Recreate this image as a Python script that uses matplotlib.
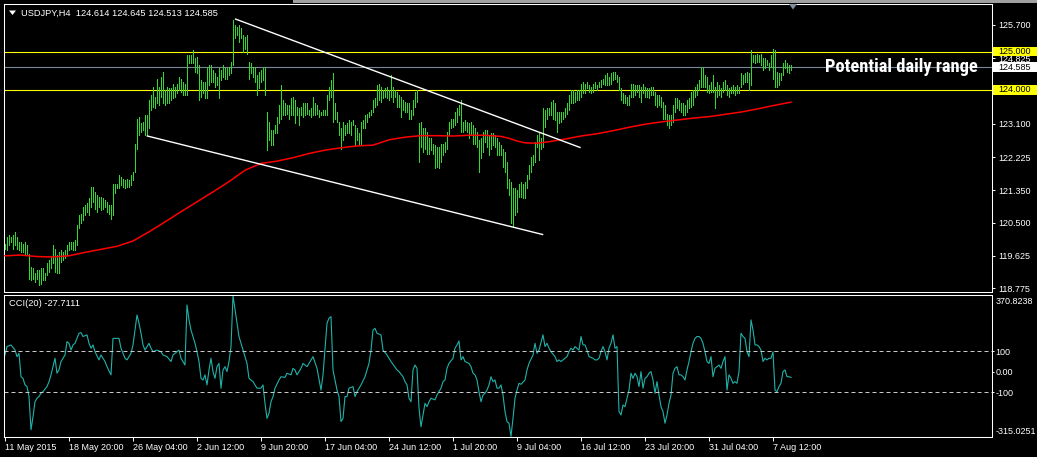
import numpy as np
import matplotlib
matplotlib.use('Agg')
from matplotlib import pyplot as plt
from matplotlib import font_manager
from matplotlib.transforms import blended_transform_factory
from matplotlib.patches import Rectangle, Polygon

# USDJPY H4 bars (high / low), one value per bar
bar_high = [
    119.95, 120.13, 120.17, 120.13, 120.17, 120.26, 120.13, 120.00, 120.00, 119.95,
    120.00, 119.91, 119.69, 119.34, 119.30, 119.17, 119.25, 119.25, 119.30, 119.30,
    119.17, 119.43, 119.52, 119.60, 119.91, 119.82, 119.65, 119.74, 119.78, 119.74,
    119.78, 119.91, 120.00, 120.00, 120.00, 120.04, 120.44, 120.70, 120.74, 120.92,
    120.96, 121.01, 121.14, 121.45, 121.45, 121.31, 121.23, 121.18, 121.18, 121.14,
    121.09, 121.05, 120.96, 120.96, 121.53, 121.53, 121.53, 121.75, 121.71, 121.66,
    121.62, 121.66, 121.62, 121.75, 121.84, 122.58, 123.24, 123.29, 123.11, 123.15,
    123.33, 123.33, 123.72, 123.86, 124.08, 123.81, 124.29, 124.08, 124.34, 124.47,
    123.99, 124.08, 124.03, 124.03, 124.16, 124.08, 124.16, 124.34, 124.29, 124.21,
    124.16, 124.91, 124.91, 124.91, 125.04, 124.82, 124.86, 124.65, 124.25, 124.21,
    124.21, 124.56, 124.65, 124.65, 124.51, 124.43, 124.34, 124.56, 124.51, 124.65,
    124.56, 124.56, 124.60, 124.73, 125.83, 125.70, 125.65, 125.70, 125.61, 125.43,
    125.39, 125.43, 124.73, 124.69, 124.60, 124.60, 124.38, 124.47, 124.51, 124.56,
    124.60, 123.42, 123.15, 122.94, 122.94, 123.07, 123.29, 123.59, 124.12, 123.72,
    123.64, 123.59, 123.59, 123.77, 123.81, 123.72, 123.55, 123.51, 123.55, 123.64,
    123.64, 123.64, 123.46, 123.51, 123.81, 123.64, 123.59, 123.46, 123.42, 123.46,
    123.46, 123.86, 124.08, 124.25, 124.43, 123.64, 123.42, 123.15, 122.98, 123.15,
    123.07, 123.11, 123.20, 123.15, 123.20, 123.07, 122.98, 122.85, 123.15, 123.20,
    123.33, 123.37, 123.42, 123.46, 123.72, 123.77, 124.12, 124.16, 124.08, 123.99,
    124.03, 124.08, 123.99, 124.38, 124.08, 123.99, 123.94, 123.86, 123.81, 123.72,
    123.68, 123.64, 123.64, 123.46, 123.72, 123.94, 123.99, 123.11, 123.15, 122.98,
    122.98, 122.89, 122.72, 122.72, 122.58, 122.54, 122.50, 122.50, 122.58, 122.58,
    122.63, 122.89, 123.15, 123.24, 123.24, 123.42, 123.51, 123.59, 123.72, 123.15,
    123.20, 123.15, 123.11, 123.15, 123.07, 122.98, 122.89, 122.67, 122.72, 122.89,
    122.94, 122.94, 122.80, 122.85, 122.85, 122.80, 122.72, 122.63, 122.54, 122.45,
    122.37, 122.10, 121.66, 121.58, 121.40, 121.40, 121.36, 121.53, 121.58, 121.53,
    121.58, 121.75, 122.01, 122.23, 122.28, 122.63, 122.80, 122.85, 122.72, 123.51,
    123.46, 123.51, 123.51, 123.68, 123.72, 123.64, 123.42, 123.42, 123.42, 123.42,
    123.51, 123.64, 123.86, 123.99, 123.99, 123.94, 123.99, 123.99, 124.16, 124.21,
    124.16, 124.21, 124.12, 124.08, 124.16, 124.21, 124.12, 124.21, 124.25, 124.29,
    124.38, 124.43, 124.34, 124.43, 124.47, 124.47, 124.38, 124.34, 124.03, 123.90,
    123.86, 123.81, 123.86, 124.16, 124.16, 124.12, 124.12, 124.12, 124.08, 124.16,
    124.08, 124.03, 124.03, 124.08, 124.08, 123.94, 123.86, 123.86, 123.81, 123.68,
    123.59, 123.37, 123.33, 123.33, 123.59, 123.77, 123.77, 123.72, 123.64, 123.64,
    123.59, 123.72, 123.77, 123.94, 123.99, 124.08, 124.16, 124.25, 124.56, 124.60,
    124.38, 124.34, 124.12, 124.21, 124.38, 124.08, 124.21, 124.12, 124.03, 124.21,
    124.25, 124.12, 124.03, 124.08, 124.12, 124.08, 124.12, 124.08, 124.43, 124.38,
    124.43, 124.47, 124.43, 125.04, 124.91, 124.91, 124.95, 124.91, 124.95, 124.82,
    124.82, 124.78, 124.69, 124.91, 125.08, 125.04, 124.47, 124.43, 124.43, 124.69,
    124.78, 124.69, 124.65, 124.645,
]

bar_low = [
    119.82, 119.78, 119.91, 120.00, 119.82, 119.91, 119.82, 119.78, 119.74, 119.74,
    119.65, 119.65, 119.03, 118.99, 119.03, 118.95, 119.03, 118.86, 118.90, 118.99,
    118.99, 119.12, 119.21, 119.30, 119.43, 119.21, 119.17, 119.17, 119.47, 119.52,
    119.56, 119.65, 119.78, 119.82, 119.78, 119.78, 119.91, 120.35, 120.48, 120.57,
    120.70, 120.79, 120.70, 120.92, 121.05, 120.87, 120.79, 120.92, 120.83, 120.87,
    120.92, 120.79, 120.74, 120.61, 120.70, 121.27, 121.40, 121.40, 121.49, 121.45,
    121.40, 121.45, 121.45, 121.49, 121.62, 121.84, 122.45, 122.80, 122.89, 122.94,
    122.80, 122.80, 122.98, 123.46, 123.55, 123.51, 123.64, 123.59, 123.81, 123.64,
    123.59, 123.64, 123.64, 123.72, 123.77, 123.81, 123.90, 123.99, 123.94, 123.86,
    123.86, 123.86, 124.69, 124.69, 124.69, 124.47, 124.43, 123.72, 123.81, 123.90,
    123.77, 123.77, 124.12, 124.21, 124.21, 124.08, 124.12, 123.77, 124.25, 124.34,
    124.29, 124.29, 124.38, 124.43, 124.65, 125.35, 125.43, 125.26, 125.35, 125.00,
    125.08, 124.95, 124.29, 124.43, 124.34, 124.21, 123.86, 124.03, 124.21, 124.25,
    123.86, 122.41, 122.67, 122.54, 122.54, 122.85, 122.85, 123.11, 123.24, 123.33,
    123.33, 123.37, 123.24, 123.33, 123.33, 123.11, 123.33, 123.07, 123.33, 123.29,
    123.33, 123.37, 123.33, 123.29, 123.33, 123.33, 123.37, 123.29, 123.33, 123.33,
    123.33, 123.33, 123.72, 123.81, 123.15, 123.24, 123.15, 122.80, 122.45, 122.67,
    122.80, 122.85, 122.85, 122.80, 123.07, 122.54, 122.67, 122.54, 122.58, 122.98,
    122.98, 123.15, 123.29, 123.33, 123.42, 123.55, 123.59, 123.72, 123.68, 123.77,
    123.81, 123.77, 123.72, 123.81, 123.68, 123.81, 123.55, 123.55, 123.29, 123.46,
    123.42, 123.42, 123.24, 123.24, 123.33, 123.55, 123.68, 122.10, 122.50, 122.37,
    122.45, 122.32, 122.32, 122.41, 122.32, 121.93, 121.97, 121.93, 122.10, 122.28,
    122.37, 122.45, 122.80, 122.98, 123.02, 123.07, 123.15, 123.33, 122.89, 122.89,
    122.94, 122.89, 122.72, 122.80, 122.58, 122.58, 122.50, 121.84, 122.19, 122.37,
    122.63, 122.50, 122.28, 122.45, 122.54, 122.50, 122.28, 122.28, 122.28, 121.97,
    121.84, 121.40, 121.23, 120.48, 120.39, 120.70, 120.79, 121.18, 121.18, 121.14,
    121.14, 121.40, 121.66, 121.84, 122.01, 122.10, 122.50, 122.15, 122.45, 122.50,
    123.02, 123.24, 123.33, 123.33, 123.24, 123.20, 122.89, 123.11, 123.15, 123.24,
    123.29, 123.37, 123.46, 123.64, 123.64, 123.68, 123.72, 123.72, 123.81, 123.90,
    123.90, 124.03, 123.94, 123.90, 123.94, 124.03, 123.99, 124.08, 124.08, 124.16,
    124.12, 124.12, 124.12, 124.16, 124.25, 124.29, 124.21, 123.99, 123.72, 123.64,
    123.64, 123.59, 123.59, 123.81, 123.81, 123.86, 123.94, 123.81, 123.68, 123.90,
    123.81, 123.81, 123.77, 123.86, 123.86, 123.59, 123.55, 123.59, 123.55, 123.24,
    123.24, 123.07, 122.98, 123.07, 123.15, 123.42, 123.51, 123.46, 123.42, 123.33,
    123.33, 123.42, 123.51, 123.55, 123.59, 123.81, 123.86, 123.99, 124.08, 124.08,
    124.08, 123.94, 123.90, 123.94, 123.94, 123.51, 123.81, 123.86, 123.81, 123.94,
    123.99, 123.86, 123.81, 123.90, 123.90, 123.86, 123.90, 123.90, 124.08, 124.16,
    124.21, 124.21, 123.99, 124.12, 124.73, 124.69, 124.73, 124.73, 124.65, 124.51,
    124.56, 124.65, 124.51, 124.60, 124.29, 124.08, 124.08, 124.12, 124.25, 124.38,
    124.56, 124.47, 124.43, 124.513,
]
assert len(bar_high) == len(bar_low)

# red moving average, sampled along the line
ma_bars = [0, 8, 16, 24, 32, 40, 48, 56, 64, 72, 80, 88, 96, 104, 112, 120, 128,
           136, 144, 152, 160, 168, 176, 184, 192, 200, 208, 216, 224, 232, 240,
           248, 252, 256, 260, 266, 272, 280, 288, 296, 304, 312, 320, 328, 336,
           344, 352, 360, 368, 376, 384, 393]
ma_vals = [119.63, 119.65, 119.61, 119.60, 119.63, 119.72, 119.80, 119.88, 120.02,
           120.26, 120.52, 120.79, 121.05, 121.31, 121.58, 121.88, 122.06, 122.12,
           122.21, 122.32, 122.41, 122.47, 122.52, 122.54, 122.68, 122.75, 122.79,
           122.79, 122.78, 122.80, 122.80, 122.77, 122.72, 122.65, 122.60, 122.59,
           122.63, 122.70, 122.78, 122.84, 122.92, 123.01, 123.09, 123.15, 123.20,
           123.25, 123.29, 123.35, 123.41, 123.49, 123.58, 123.67]

# CCI(20)
cci_bars = [0, 1, 3, 5, 6, 7, 8, 9, 10, 11, 12, 13, 14, 15, 16, 17, 18, 19, 21, 22,
            23, 24, 25, 26, 27, 28, 29, 30, 31, 32, 33, 34, 35, 37, 38, 39, 41, 42,
            43, 44, 45, 47, 48, 49, 50, 51, 53, 54, 56, 57, 58, 60, 61, 63, 64, 66,
            67, 68, 69, 70, 72, 73, 74, 76, 78, 79, 81, 83, 84, 86, 87, 88, 90, 91,
            92, 93, 95, 96, 97, 98, 99, 100, 101, 102, 103, 104, 105, 106, 107, 108,
            109, 110, 111, 112, 113, 114, 116, 117, 119, 121, 122, 123, 124, 126,
            128, 129, 130, 131, 132, 133, 134, 135, 137, 138, 140, 141, 143, 144,
            145, 146, 148, 149, 151, 154, 156, 158, 159, 161, 162, 163, 164, 166,
            167, 168, 169, 170, 171, 172, 174, 175, 176, 178, 180, 182, 183, 184,
            185, 186, 188, 189, 191, 193, 196, 197, 199, 200, 201, 202, 203, 204,
            205, 206, 207, 208, 209, 210, 211, 212, 213, 215, 216, 218, 219, 220,
            221, 222, 224, 225, 226, 227, 228, 229, 230, 232, 233, 234, 235, 236,
            237, 238, 239, 240, 241, 242, 243, 244, 245, 246, 247, 248, 249, 250,
            251, 252, 253, 254, 255, 256, 257, 258, 260, 261, 262, 264, 265, 266,
            267, 269, 270, 271, 272, 273, 275, 276, 277, 278, 280, 281, 282, 283,
            284, 285, 287, 288, 289, 290, 291, 292, 294, 295, 296, 297, 298, 299,
            300, 301, 302, 303, 304, 305, 306, 307, 308, 309, 310, 311, 312, 313,
            314, 315, 316, 317, 318, 319, 320, 321, 322, 323, 324, 325, 326, 327,
            328, 329, 330, 331, 332, 333, 334, 335, 336, 337, 338, 339, 340, 341,
            342, 343, 344, 345, 346, 347, 348, 349, 350, 351, 352, 353, 354, 355,
            356, 357, 358, 359, 360, 361, 362, 363, 364, 365, 366, 367, 368, 369,
            370, 371, 372, 373, 374, 375, 376, 377, 378, 379, 380, 381, 382, 383,
            384, 385, 386, 387, 388, 389, 390, 391, 392, 393]
cci_vals = [82, 123, 131, 106, 74, 90, -24, -32, -64, -72, -121, -283, -219, -146,
            -129, -121, -105, -97, -72, -48, -15, 25, 66, -7, 9, 50, 66, 82, 147,
            139, 106, 131, 139, 188, 191, 172, 180, 139, 115, 131, 98, 58, 82, 66,
            50, 25, -15, 163, 163, 163, 115, 66, 58, 90, 131, 277, 237, 188, 131,
            106, 139, 115, 98, 106, 98, 82, 74, 50, 82, 98, 106, 66, 33, 326, 253,
            204, 139, 98, 50, -32, -40, -15, -64, 9, 66, 1, -32, 25, 41, -80, 9, 25,
            1, 50, 123, 370.8238, 237, 172, 106, 41, -32, -40, -48, -80, -80, -64,
            -154, -227, -202, -146, -121, -80, -40, -24, -27, -7, -15, 17, 9, -15,
            17, 41, 25, 74, 17, -89, -15, 237, 261, 269, 9, -89, -121, -243, -227,
            -121, -121, -80, -72, -121, -97, -64, -24, 41, 106, 204, 212, 188, 180,
            106, 82, 50, 9, 1, -24, -48, -64, -129, -146, 9, 33, 17, -178, -268,
            -211, -154, -170, -146, -129, -137, -113, -80, -48, -40, 17, 41, 66, 115,
            131, 150, 58, 74, 50, 41, 25, -7, -15, -40, -97, -146, -113, -105, -89,
            -64, -24, -48, -40, -80, -80, -64, -113, -194, -243, -251, -315.0251,
            -227, -129, -89, -56, -61, -40, 9, 41, 82, 139, 90, 106, 180, 123, 139,
            115, 98, 74, 50, 58, 50, 66, 74, 98, 115, 106, 123, 106, 172, 131, 131,
            106, 74, 66, 58, 58, 66, 98, 123, 98, 58, 115, 139, 180, 115, 123, -194,
            -211, -162, -170, -129, -89, -7, -32, -7, -24, -72, 1, -80, -32, -24, -7,
            1, -40, -105, -48, -113, -170, -194, -251, -211, -154, -113, -7, 17, 25,
            -15, -15, -24, -40, 9, 50, 98, 139, 163, 172, 172, 163, 139, 98, 50, 41,
            74, -24, 17, 25, 33, 17, 50, 74, -89, -15, -32, -56, -48, -56, 1, 188,
            172, 163, 98, 74, 253, 204, 131, 131, 123, 106, 50, 66, 58, 66, 66, 98,
            -89, -97, -72, -56, 1, 9, -24, -24, -27.7111]
assert len(cci_bars) == len(cci_vals)

# trend lines drawn on the chart (bar index, price)
upper_line_bars = [115.3, 287.5]
upper_line_prices = [125.855, 122.48]
lower_line_bars = [71.2, 268.8]
lower_line_prices = [122.78, 120.19]

range_high = 125.000
range_low = 124.000
last_price = 124.585

price_ticks = [125.700, 124.825, 123.100, 122.225, 121.350, 120.500, 119.625, 118.775]
price_labels = ['125.700', '124.825', '123.100', '122.225', '121.350', '120.500',
                '119.625', '118.775']

time_ticks = [0, 32, 64, 96, 128, 160, 192, 224, 256, 288, 320, 352, 384]
time_labels = ['11 May 2015', '18 May 20:00', '26 May 04:00', '2 Jun 12:00',
               '9 Jun 20:00', '17 Jun 04:00', '24 Jun 12:00', '1 Jul 20:00',
               '9 Jul 04:00', '16 Jul 12:00', '23 Jul 20:00', '31 Jul 04:00',
               '7 Aug 12:00']

W, H = 1037, 457
bar_green = '#30D830'
fs = 6.5
plt.rcParams['font.family'] = ['Liberation Sans', 'DejaVu Sans']

names = {f.name for f in font_manager.fontManager.ttflist}
narrow = 'Liberation Sans'
for cand in ['Liberation Sans Narrow', 'Roboto Condensed', 'Open Sans Condensed']:
    if cand in names:
        narrow = cand
        break

fig = plt.figure(figsize=(W / 100, H / 100), dpi=100, facecolor='black')
ax = fig.add_axes([4 / W, 1 - 292 / H, 988 / W, 288 / H], facecolor='black')
ax2 = fig.add_axes([4 / W, 1 - 436.7 / H, 988 / W, 141.7 / H], facecolor='black')

for a in (ax, ax2):
    a.set_xlim(-0.5, 493.5)
    for s in a.spines.values():
        s.set_color('white')
        s.set_linewidth(0.75)

# price panel
idx = np.arange(len(bar_high))
ax.vlines(idx, bar_low, bar_high, colors=bar_green, linewidth=0.72, antialiased=False, zorder=3)
ax.plot(ma_bars, ma_vals, color='#FF0000', lw=1.1, zorder=3)
ax.plot(upper_line_bars, upper_line_prices, color='white', lw=1.0, zorder=4)
ax.plot(lower_line_bars, lower_line_prices, color='white', lw=1.0, zorder=4)
ax.axhline(range_high, color='#FFFF00', lw=0.8, zorder=2)
ax.axhline(range_low, color='#FFFF00', lw=0.8, zorder=2)
ax.axhline(last_price, color='#778899', lw=0.8, zorder=2)

ax.set_ylim(118.678, 126.252)
ax.set_xticks([])
ax.yaxis.tick_right()
ax.set_yticks(price_ticks)
ax.set_yticklabels(price_labels)
ax.tick_params(axis='y', colors='white', length=2.2, width=0.7, pad=2.2, labelsize=fs)

note = ax.text(410, 124.60, 'Potential daily range', color='white', fontsize=13,
               fontweight='bold', family=[narrow, 'DejaVu Sans'], va='center', ha='left',
               zorder=6)
fig.canvas.draw()
w = note.get_window_extent().width
note.set_fontsize(13 * 153 / w)

trans = blended_transform_factory(fig.transFigure, ax.transData)
px = 1 / 38.02
for val, txt, bg, h in [(range_high, '125.000', '#FFFF00', 9),
                        (last_price, '124.585', 'white', 10),
                        (range_low, '124.000', '#FFFF00', 10)]:
    ax.add_patch(Rectangle((993 / W, val - h * px / 2), 44 / W, h * px, transform=trans,
                           facecolor=bg, edgecolor='none', clip_on=False, zorder=6))
    ax.text(998 / W, val, txt, transform=trans, color='black', fontsize=fs,
            va='center', ha='left', clip_on=False, zorder=7)

# CCI panel
ax2.plot(cci_bars, cci_vals, color='#20B2AA', lw=0.8)
for lvl in (100, -100):
    ax2.axhline(lvl, color='#C8C8C8', lw=0.72, ls=(0, (4, 3)))
ax2.set_ylim(-316.6, 374.6)
ax2.yaxis.tick_right()
ax2.set_yticks([100, 0, -100])
ax2.set_yticklabels(['100', '0.00', '-100'])
ax2.tick_params(axis='y', colors='white', length=1.5, width=0.7, pad=1.2, labelsize=fs)
ax2.set_xticks(time_ticks)
ax2.set_xticklabels(time_labels)
ax2.tick_params(axis='x', colors='white', length=3, width=0.7, pad=1.5, labelsize=fs)
for lab in ax2.get_xticklabels():
    lab.set_ha('left')

fig.text(996 / W, 1 - 297 / H, '370.8238', color='white', fontsize=fs, va='top', ha='left')
fig.text(996 / W, 1 - 431.5 / H, '-315.0251', color='white', fontsize=fs, va='center', ha='left')

# header texts and markers
fig.text(21 / W, 1 - 13 / H, 'USDJPY,H4  124.614 124.645 124.513 124.585',
         color='white', fontsize=6.7, va='center', ha='left')
fig.text(9 / W, 1 - 304 / H, 'CCI(20) -27.7111', color='white', fontsize=6.7,
         va='center', ha='left')
fig.patches.append(Polygon([(9 / W, 1 - 10.5 / H), (16 / W, 1 - 10.5 / H), (12.5 / W, 1 - 15 / H)],
                           closed=True, facecolor='white', edgecolor='none',
                           transform=fig.transFigure))
fig.patches.append(Polygon([(789 / W, 1 - 4 / H), (797 / W, 1 - 4 / H), (793 / W, 1 - 9.5 / H)],
                           closed=True, facecolor='#8090A0', edgecolor='none',
                           transform=fig.transFigure))
# thin grey window edge along the top
fig.patches.append(Rectangle((293 / W, 1 - 2.5 / H), (W - 293) / W, 2.5 / H,
                             facecolor='#A0A0A0', edgecolor='none',
                             transform=fig.transFigure))

fig.savefig('out.png', dpi=100, facecolor='black')
